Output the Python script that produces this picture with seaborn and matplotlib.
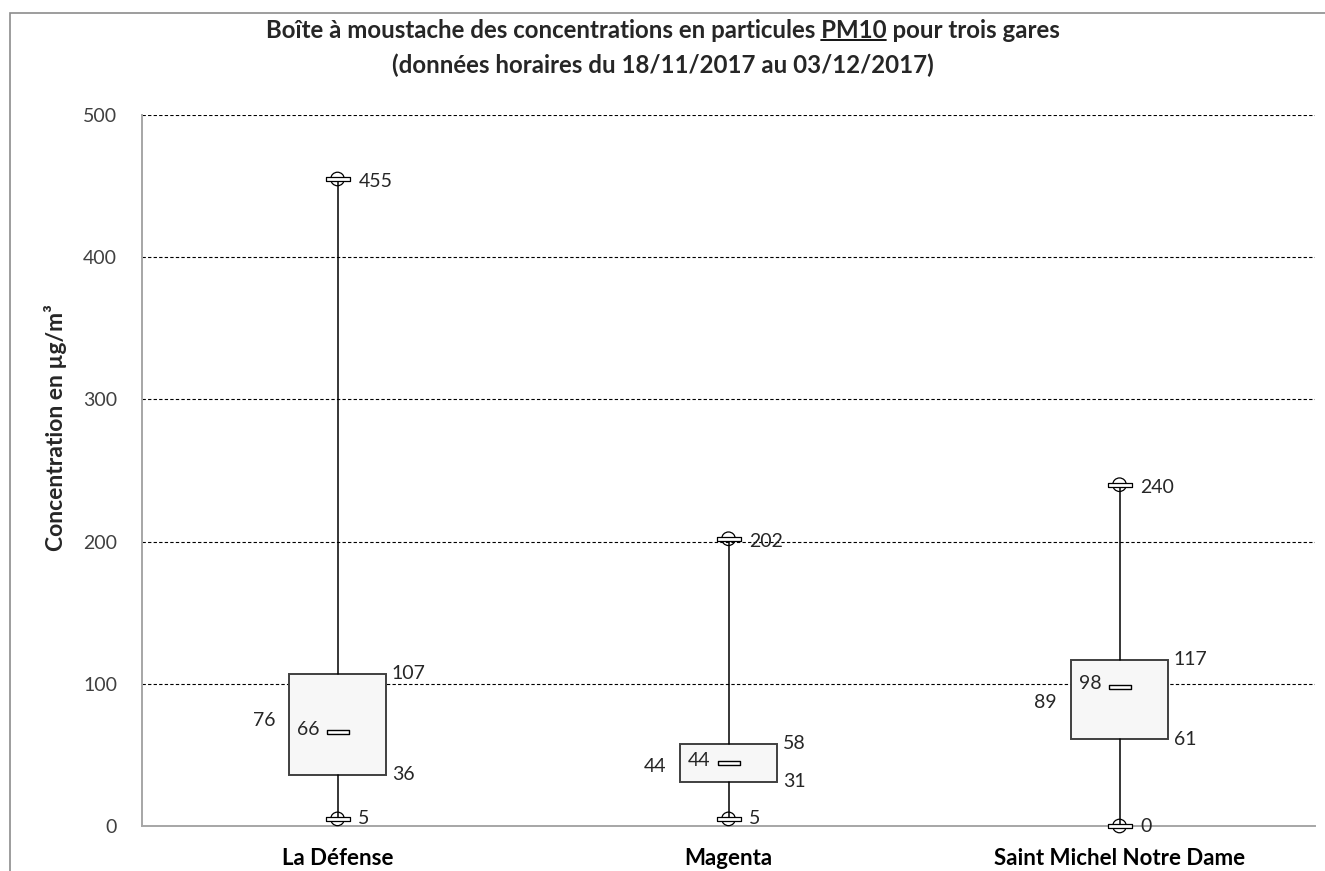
import numpy as np
import pandas as pd
import matplotlib.pyplot as plt
import matplotlib.patches as mpatches
import seaborn as sns

# Données (µg/m3)
gares = ['La Défense', 'Magenta', 'Saint Michel Notre Dame']
minimum = [5, 5, 0]
q1 = [36, 31, 61]
mediane = [66, 44, 98]
q3 = [107, 58, 117]
maximum = [455, 202, 240]
moyenne = [76, 44, 89]

sns.set_style('white')
plt.rcParams['font.family'] = ['Lato', 'DejaVu Sans']

df = pd.DataFrame({'gare': gares, 'min': minimum, 'q1': q1, 'med': mediane,
                   'q3': q3, 'max': maximum, 'mean': moyenne})
df['x'] = np.arange(len(df))

fig = plt.figure(figsize=(13.25, 8.71), dpi=100)
ax = fig.add_axes([142 / 1325, 45 / 871, (1315 - 142) / 1325, (826 - 115) / 871])

# cadre extérieur
fig.patches.append(mpatches.Rectangle((9.5 / 1325, -0.1), 1.2, 1 - 13 / 871 + 0.1,
                                      transform=fig.transFigure, fill=False,
                                      edgecolor='#8c8c8c', lw=1.2))

# grille
for v in [100, 200, 300, 400, 500]:
    ax.axhline(v, color='black', lw=0.8, ls=(0, (3, 2)), zorder=0)

stats = [dict(whislo=r['min'], q1=r['q1'], med=r['med'], q3=r['q3'], whishi=r['max'],
              label=r['gare']) for _, r in df.iterrows()]
ax.bxp(stats, positions=df['x'], widths=0.25, showfliers=False, showcaps=False,
       patch_artist=True,
       boxprops=dict(facecolor='#f7f7f7', edgecolor='#404040', lw=1.4),
       whiskerprops=dict(color='black', lw=1.1),
       medianprops=dict(lw=0))

# marqueurs médiane / extrêmes
rect = [(-1, -0.2), (1, -0.2), (1, 0.2), (-1, 0.2), (-1, -0.2)]
bar = [(-1, -0.15), (1, -0.15), (1, 0.15), (-1, 0.15), (-1, -0.15)]
sns.scatterplot(data=df, x='x', y='med', marker=rect, s=260, facecolor='white',
                edgecolor='black', linewidth=1, ax=ax, zorder=5, clip_on=False)
for col in ['min', 'max']:
    sns.scatterplot(data=df, x='x', y=col, marker='o', s=95, facecolor='none',
                    edgecolor='black', linewidth=0.9, ax=ax, zorder=5, clip_on=False)
    sns.scatterplot(data=df, x='x', y=col, marker=bar, s=300, facecolor='white',
                    edgecolor='black', linewidth=0.9, ax=ax, zorder=6, clip_on=False)

# étiquettes
lab = dict(fontsize=14, color='#262626', va='center')
for _, r in df.iterrows():
    x = r['x']
    ax.annotate(f"{r['max']}", (x, r['max']), xytext=(15, -2), textcoords='offset points', ha='left', **lab)
    ax.annotate(f"{r['min']}", (x, r['min']), xytext=(15, 0), textcoords='offset points', ha='left', **lab)
    ax.annotate(f"{r['q3']}", (x + 0.125, r['q3']), xytext=(4, 0), textcoords='offset points', ha='left', **lab)
    ax.annotate(f"{r['q1']}", (x + 0.125, r['q1']), xytext=(4, 0), textcoords='offset points', ha='left', **lab)
    ax.annotate(f"{r['med']}", (x, r['med']), xytext=(-13, 2), textcoords='offset points', ha='right', **lab)
    ax.annotate(f"{r['mean']}", (x, r['mean']), xytext=(-45, -2), textcoords='offset points', ha='right', **lab)

ax.set_xlim(-0.5, 2.5)
ax.set_ylim(0, 500)
ax.set_yticks([0, 100, 200, 300, 400, 500])
ax.set_xticks(df['x'])
ax.set_xticklabels(gares, fontsize=16, fontweight='bold', color='black')
ax.set_xticks([-0.5, 0.5, 1.5, 2.5], minor=True)
ax.tick_params(axis='x', which='major', length=0, pad=16)
ax.tick_params(axis='x', which='minor', length=5, color='#a6a6a6', width=1.2)
ax.tick_params(axis='y', length=6, color='#a6a6a6', width=1.2, labelsize=14,
               labelcolor='#404040', pad=12)
for s in ['top', 'right']:
    ax.spines[s].set_visible(False)
for s in ['left', 'bottom']:
    ax.spines[s].set_color('#a6a6a6')
    ax.spines[s].set_linewidth(1.4)
ax.set_xlabel('')
ax.set_ylabel('Concentration en µg/m³', fontsize=16.5, fontweight='bold')
ax.yaxis.set_label_coords(-0.064, 0.56)

titre1 = 'Boîte à moustache des concentrations en particules PM10 pour trois gares'
titre2 = '(données horaires du 18/11/2017 au 03/12/2017)'
t1 = fig.text(0.5, 1 - 30 / 871, titre1, ha='center', va='center', fontsize=17.3, fontweight='bold')
fig.text(0.5, 1 - 65 / 871, titre2, ha='center', va='center', fontsize=17.3, fontweight='bold')

# soulignement de "PM10"
fig.canvas.draw()
rend = fig.canvas.get_renderer()
bb = t1.get_window_extent(rend)
tmp = fig.text(0, 0, titre1.split(' pour')[0], fontsize=17.3, fontweight='bold')
w_pre = tmp.get_window_extent(rend).width
tmp.set_text('PM10')
w_pm = tmp.get_window_extent(rend).width
tmp.remove()
x1 = bb.x0 + w_pre
x0 = x1 - w_pm
yline = bb.y0 + 1
fig.add_artist(plt.Line2D([x0 / fig.bbox.width, x1 / fig.bbox.width],
                          [yline / fig.bbox.height] * 2, color='black', lw=1.3,
                          transform=fig.transFigure))

fig.savefig('out.png', dpi=100)
